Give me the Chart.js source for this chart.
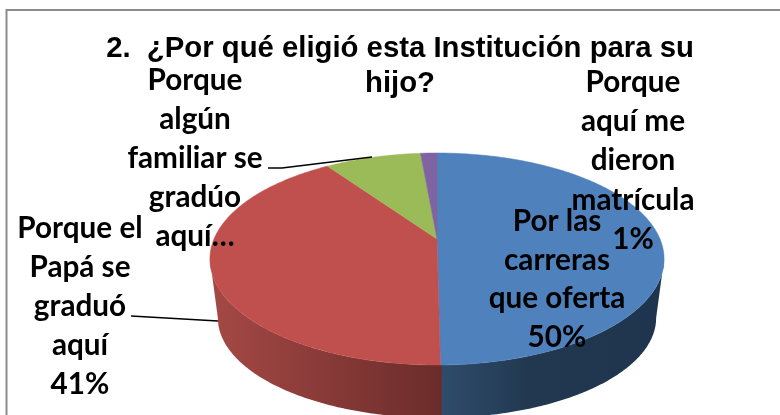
<!DOCTYPE html>
<html><head><meta charset="utf-8">
<style>html,body{margin:0;padding:0;background:#fff}#wrap{width:780px;height:415px;position:relative}</style>
<script src="https://cdn.jsdelivr.net/npm/chart.js@4/dist/chart.umd.js"></script>
</head><body><div id="wrap"><canvas id="c" width="780" height="415"></canvas></div>
<script>
const titleLines = ["2.  ¿Por qué eligió esta Institución para su", "hijo?"];
const categories = ["Por las carreras que oferta", "Porque el Papá se graduó aquí", "Porque algún familiar se gradúo aquí…", "Porque aquí me dieron matrícula"];
const values = [49.8, 40.6, 8.2, 1.4];
const colors = ["#4f81bd", "#c0504d", "#9bbb59", "#8064a2"];
const labelLines = [
  ["Por las", "carreras", "que oferta"],
  ["Porque el", "Papá se", "graduó", "aquí"],
  ["Porque", "algún", "familiar se", "gradúo", "aquí…"],
  ["Porque", "aquí me", "dieron", "matrícula"]
];
const showPercent = [true, true, false, true];

const G = {
  cx: 437, apexY: 239, scaleX: 223, persp: -0.1887, scaleY: 57.13,
  lowCy: 318, topCy: 259, kx: 0.965, ky: 0.943
};
const labelPos = [
  {x: 557, y: 231, dy: 38.7},
  {x: 80, y: 238, dy: 39},
  {x: 195, y: 90, dy: 39},
  {x: 633, y: 92, dy: 39.2}
];
const leaders = [
  [[268,168],[282,168],[372,157]],
  [[131,316],[218,321]]
];
const wallGrad = [
  [[441,"#2f4c6c"],[530,"#223850"],[664,"#1f344e"]],
  [[215,"#a44845"],[441,"#6a2c2a"]],
  [[215,"#7d9648"],[441,"#7d9648"]],
  [[215,"#67508a"],[441,"#67508a"]]
];

function topPoint(a){
  const u = Math.sin(a), v = -Math.cos(a);
  const w = 1 + G.persp * v;
  return [G.cx + G.scaleX * u / w, (G.apexY + G.scaleY * v) / w];
}
function lowPoint(p){
  return [G.cx + (p[0]-G.cx)*G.kx, G.lowCy + (p[1]-G.topCy)*G.ky];
}
const pie3d = {
  id: "pie3d",
  beforeDatasetDraw(chart, args){
    const ctx = chart.ctx, arcs = chart.getDatasetMeta(0).data;
    const off = Math.PI/2;
    const vis = Math.acos(G.persp);
    // side wall
    arcs.forEach((arc,i)=>{
      const s = arc.startAngle + off, e = arc.endAngle + off;
      const a0 = Math.max(s - 0.005, vis), a1 = Math.min(e, 2*Math.PI - vis);
      if (a1 <= a0) return;
      const x0 = wallGrad[i][0][0], x1 = wallGrad[i][wallGrad[i].length-1][0];
      const g = ctx.createLinearGradient(x0,0,x1,0);
      wallGrad[i].forEach(st=>g.addColorStop((st[0]-x0)/(x1-x0), st[1]));
      ctx.save();
      ctx.fillStyle = g;
      ctx.beginPath();
      const n = 120, up = [], lo = [];
      for (let k=0;k<=n;k++){
        const p = topPoint(a0 + (a1-a0)*k/n);
        up.push(p); lo.push(lowPoint(p));
      }
      up.forEach((p,k)=> k? ctx.lineTo(p[0],p[1]) : ctx.moveTo(p[0],p[1]));
      lo.reverse().forEach(p=>ctx.lineTo(p[0],p[1]));
      ctx.closePath(); ctx.fill();
      ctx.restore();
    });
    // top face
    arcs.forEach((arc,i)=>{
      const s = arc.startAngle + off, e = arc.endAngle + off;
      ctx.save();
      ctx.fillStyle = colors[i];
      ctx.strokeStyle = colors[i];
      ctx.lineWidth = 0.5;
      ctx.beginPath();
      ctx.moveTo(G.cx, G.apexY);
      const n = Math.max(4, Math.ceil((e-s)*60));
      for (let k=0;k<=n;k++){
        const p = topPoint(s + (e-s)*k/n);
        ctx.lineTo(p[0],p[1]);
      }
      ctx.closePath(); ctx.fill(); ctx.stroke();
      ctx.restore();
    });
    return false;
  },
  afterDatasetsDraw(chart){
    const ctx = chart.ctx;
    ctx.save();
    ctx.strokeStyle = "#000"; ctx.lineWidth = 1.5;
    leaders.forEach(l=>{
      ctx.beginPath();
      l.forEach((p,k)=> k? ctx.lineTo(p[0],p[1]) : ctx.moveTo(p[0],p[1]));
      ctx.stroke();
    });
    ctx.fillStyle = "#000";
    ctx.font = 'bold 29.7px Lato, "Open Sans", sans-serif';
    ctx.textAlign = "center"; ctx.textBaseline = "alphabetic";
    labelLines.forEach((lines,i)=>{
      const all = showPercent[i] ? lines.concat([Math.round(values[i]) + "%"]) : lines;
      all.forEach((t,k)=> ctx.fillText(t, labelPos[i].x, labelPos[i].y + labelPos[i].dy*k));
    });
    ctx.restore();
  },
  beforeDraw(chart){
    const ctx = chart.ctx;
    ctx.save();
    ctx.fillStyle = "#fff"; ctx.fillRect(0,0,780,415);
    ctx.strokeStyle = "#8c8c8c"; ctx.lineWidth = 2;
    ctx.beginPath();
    ctx.moveTo(6.5,416); ctx.lineTo(6.5,10); ctx.lineTo(781,10);
    ctx.stroke();
    ctx.restore();
  }
};
new Chart(document.getElementById("c"), {
  type: "pie",
  data: { labels: categories, datasets: [{ data: values, backgroundColor: colors, borderWidth: 0 }] },
  options: {
    responsive: false, animation: false,
    layout: { padding: { left: 20 } },
    plugins: {
      legend: { display: false }, tooltip: { enabled: false },
      title: {
        display: true, text: titleLines, fullSize: false,
        color: "#000", align: "center",
        font: { family: '"Liberation Sans", Arial, sans-serif', size: 29.3, weight: "bold", lineHeight: 1.17 },
        padding: { top: 32, bottom: 0 }
      }
    }
  },
  plugins: [pie3d]
});
</script></body></html>
